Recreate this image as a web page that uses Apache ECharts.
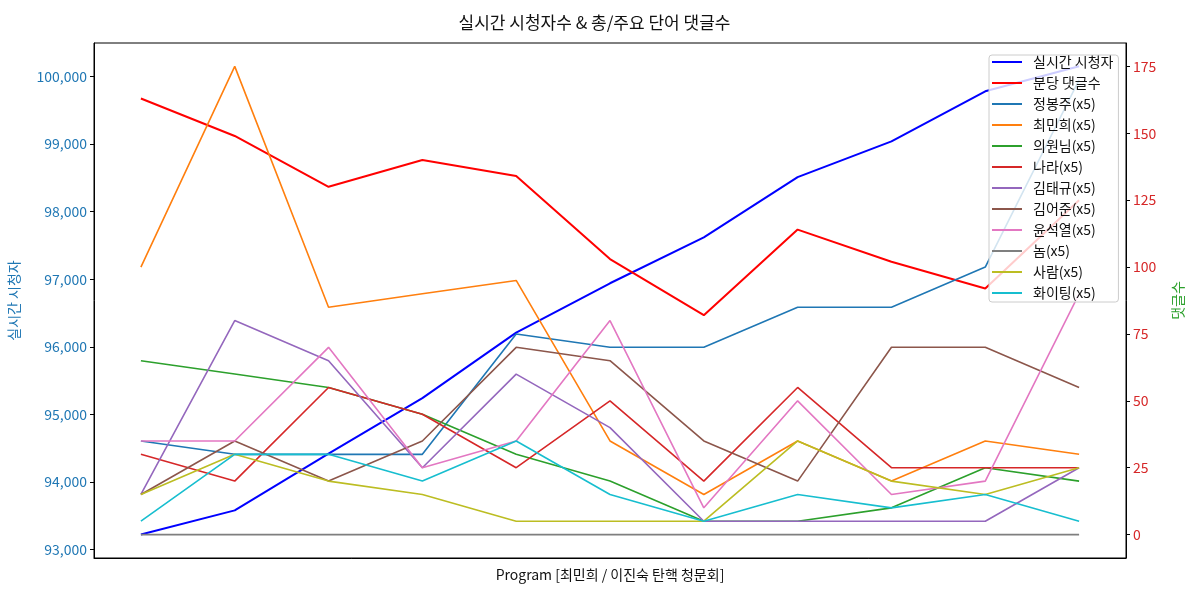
<!DOCTYPE html>
<html>
<head>
<meta charset="utf-8">
<script src="https://cdn.jsdelivr.net/npm/echarts@6/dist/echarts.min.js"></script>
<style>
html,body{margin:0;padding:0;background:#fff;}
#c{width:1189px;height:592px;}
</style>
</head>
<body>
<div id="c"></div>
<script>
const categories = ['1','2','3','4','5','6','7','8','9','10','11'];
const viewers   = [93222, 93580, 94420, 95240, 96210, 96940, 97620, 98510, 99040, 99780, 100150];
const perMinute = [163, 149, 130, 140, 134, 103, 82, 114, 102, 92, 125];
const jbj   = [35, 30, 30, 30, 75, 70, 70, 85, 85, 100, 170];
const cmh   = [100, 175, 85, 90, 95, 35, 15, 35, 20, 35, 30];
const mp    = [65, 60, 55, 45, 30, 20, 5, 5, 10, 25, 20];
const nara  = [30, 20, 55, 45, 25, 50, 20, 55, 25, 25, 25];
const ktg   = [15, 80, 65, 25, 60, 40, 5, 5, 5, 5, 25];
const kej   = [15, 35, 20, 35, 70, 65, 35, 20, 70, 70, 55];
const ysy   = [35, 35, 70, 25, 35, 80, 10, 50, 15, 20, 90];
const nom   = [0, 0, 0, 0, 0, 0, 0, 0, 0, 0, 0];
const saram = [15, 30, 20, 15, 5, 5, 5, 35, 20, 15, 25];
const fight = [5, 30, 30, 20, 35, 15, 5, 15, 10, 15, 5];
const leftTicks  = [93000, 94000, 95000, 96000, 97000, 98000, 99000, 100000];
const rightTicks = [0, 25, 50, 75, 100, 125, 150, 175];

const FONT = "'Noto Sans CJK KR', 'Noto Sans', sans-serif";
const wordSeries = [
  ['정봉주(x5)', jbj, '#1f77b4'],
  ['최민희(x5)', cmh, '#ff7f0e'],
  ['의원님(x5)', mp, '#2ca02c'],
  ['나라(x5)', nara, '#d62728'],
  ['김태규(x5)', ktg, '#9467bd'],
  ['김어준(x5)', kej, '#8c564b'],
  ['윤석열(x5)', ysy, '#e377c2'],
  ['놈(x5)', nom, '#7f7f7f'],
  ['사람(x5)', saram, '#bcbd22'],
  ['화이팅(x5)', fight, '#17becf']
];

const series = [
  {name:'실시간 시청자', type:'line', yAxisIndex:0, data:viewers, symbol:'none', lineStyle:{width:2, color:'#0000ff'}, itemStyle:{color:'#0000ff'}},
  {name:'분당 댓글수', type:'line', yAxisIndex:1, data:perMinute, symbol:'none', lineStyle:{width:2, color:'#ff0000'}, itemStyle:{color:'#ff0000'}}
];
wordSeries.forEach(w => series.push({
  name:w[0], type:'line', yAxisIndex:1, data:w[1], symbol:'none',
  lineStyle:{width:1.6, color:w[2]}, itemStyle:{color:w[2]}
}));

const chart = echarts.init(document.getElementById('c'));
chart.setOption({
  animation:false,
  backgroundColor:'#fff',
  textStyle:{fontFamily:FONT},
  title:{
    text:'실시간 시청자수 & 총/주요 단어 댓글수',
    left:'center', top:9,
    textStyle:{fontFamily:FONT, fontSize:17, fontWeight:'normal', color:'#111'}
  },
  grid:{left:94, right:63, top:43, bottom:34, containLabel:false, outerBoundsMode:'none',
        show:true, borderColor:'#000', borderWidth:1},
  legend:{
    orient:'vertical', left:989, top:55,
    padding:[0,5,2,3],
    itemWidth:30, itemHeight:2, itemGap:7,
    icon:'rect',
    backgroundColor:'rgba(255,255,255,0.8)', borderColor:'#cccccc', borderWidth:1, borderRadius:3,
    textStyle:{fontFamily:FONT, fontSize:14, color:'#111', lineHeight:14, padding:[0,0,0,6]},
    data:series.map(s => s.name)
  },
  xAxis:{
    type:'category', data:categories, boundaryGap:true,
    name:'Program [최민희 / 이진숙 탄핵 청문회]', nameLocation:'middle', nameGap:10,
    nameTextStyle:{fontFamily:FONT, fontSize:14, color:'#111', verticalAlign:'top'},
    axisLine:{show:true, onZero:false, lineStyle:{color:'#000', width:1}},
    axisTick:{show:false}, axisLabel:{show:false}, splitLine:{show:false}
  },
  yAxis:[
    {
      type:'value', position:'left', min:92875, max:100495,
      name:'실시간 시청자', nameLocation:'middle', nameGap:73, nameRotate:90,
      nameTextStyle:{fontFamily:FONT, fontSize:14, color:'#1f77b4'},
      axisLine:{show:true, onZero:false, lineStyle:{color:'#000', width:1}},
      axisTick:{show:true, length:4, customValues:leftTicks, lineStyle:{color:'#000'}},
      axisLabel:{customValues:leftTicks, margin:7, fontFamily:FONT, fontSize:14, color:'#1f77b4',
        formatter:v => Math.round(v).toLocaleString('en-US')},
      splitLine:{show:false}
    },
    {
      type:'value', position:'right', min:-8.75, max:183.75,
      name:'댓글수', nameLocation:'middle', nameGap:45, nameRotate:90,
      nameTextStyle:{fontFamily:FONT, fontSize:14, color:'#2ca02c'},
      axisLine:{show:true, onZero:false, lineStyle:{color:'#000', width:1}},
      axisTick:{show:true, length:4, customValues:rightTicks, lineStyle:{color:'#000'}},
      axisLabel:{customValues:rightTicks, margin:7, fontFamily:FONT, fontSize:14, color:'#d62728'},
      splitLine:{show:false}
    }
  ],
  series:series
});
</script>
</body>
</html>
